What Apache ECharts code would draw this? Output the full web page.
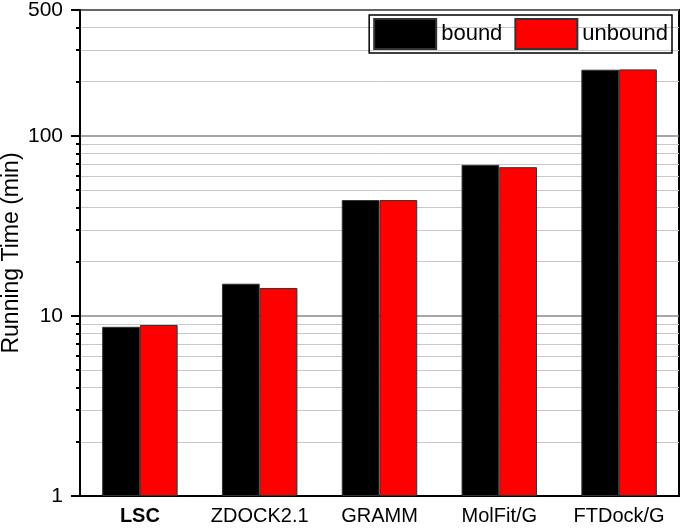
<!DOCTYPE html>
<html>
<head>
<meta charset="utf-8">
<script src="https://cdn.jsdelivr.net/npm/echarts@6/dist/echarts.min.js"></script>
<style>
  html, body { margin: 0; padding: 0; background: #fff; }
  #chart { width: 685px; height: 528px; }
</style>
</head>
<body>
<div id="chart"></div>
<script>
const categories = ['LSC', 'ZDOCK2.1', 'GRAMM', 'MolFit/G', 'FTDock/G']
const boundTimes = [8.7, 15.1, 44, 69, 233]
const unboundTimes = [8.9, 14.3, 44, 67, 234]
const majorTicks = [1, 10, 100, 500]
const minorTicks = [2, 3, 4, 5, 6, 7, 8, 9, 20, 30, 40, 50, 60, 70, 80, 90, 200, 300, 400]

const font = 'Liberation Sans, Arial, sans-serif'
const chart = echarts.init(document.getElementById('chart'))

const option = {
  animation: false,
  grid: {
    left: 80,
    right: 6,
    top: 10,
    bottom: 32,
    outerBoundsMode: 'none',
    show: true,
    borderColor: '#000',
    borderWidth: 2
  },
  legend: {
    data: ['bound', 'unbound'],
    right: 13,
    top: 15,
    itemWidth: 62,
    itemHeight: 30,
    itemGap: 12,
    padding: [3, 4],
    borderColor: '#000',
    borderWidth: 1.5,
    icon: 'rect',
    textStyle: { fontSize: 22, fontFamily: font, color: '#000' }
  },
  xAxis: [
    {
      type: 'category',
      data: categories,
      axisLine: { lineStyle: { color: '#000', width: 2 } },
      axisTick: { alignWithLabel: true, length: 8, lineStyle: { color: '#000', width: 2 } },
      axisLabel: {
        interval: 0,
        fontSize: 20,
        fontFamily: font,
        color: '#000',
        margin: 10,
        formatter: (value, index) => index === 0 ? '{b|' + value + '}' : value,
        rich: { b: { fontWeight: 'bold', fontSize: 20, fontFamily: font, color: '#000' } }
      }
    },
    {
      type: 'category',
      data: categories,
      position: 'bottom',
      axisLine: { show: false },
      axisTick: { length: 4, lineStyle: { color: '#000', width: 2 } },
      axisLabel: { show: false }
    }
  ],
  yAxis: [
    {
      type: 'log',
      logBase: 10,
      min: 1,
      max: 500,
      position: 'left',
      name: 'Running Time (min)',
      nameLocation: 'middle',
      nameGap: 57,
      nameMoveOverlap: false,
      nameTextStyle: { fontSize: 23, fontFamily: font, color: '#000' },
      axisLine: { show: true, lineStyle: { color: '#000', width: 2 } },
      axisTick: { show: true, length: 9, customValues: majorTicks, lineStyle: { color: '#000', width: 2 } },
      axisLabel: { fontSize: 21, fontFamily: font, color: '#000', margin: 17, customValues: majorTicks },
      splitLine: { show: true, lineStyle: { color: '#888', width: 1.5 } }
    },
    {
      type: 'log',
      logBase: 10,
      min: 1,
      max: 500,
      position: 'left',
      axisLine: { show: false },
      axisTick: { show: true, length: 4, customValues: minorTicks, lineStyle: { color: '#000', width: 2 } },
      axisLabel: { show: false },
      splitLine: { show: true, lineStyle: { color: '#c8c8c8', width: 1 } }
    }
  ],
  series: [
    {
      name: 'bound',
      type: 'bar',
      data: boundTimes,
      barGap: '0%',
      barCategoryGap: '37%',
      itemStyle: { color: '#000', borderColor: '#333', borderWidth: 1 }
    },
    {
      name: 'unbound',
      type: 'bar',
      data: unboundTimes,
      itemStyle: { color: '#ff0000', borderColor: '#333', borderWidth: 1 }
    }
  ]
}

chart.setOption(option)
</script>
</body>
</html>
